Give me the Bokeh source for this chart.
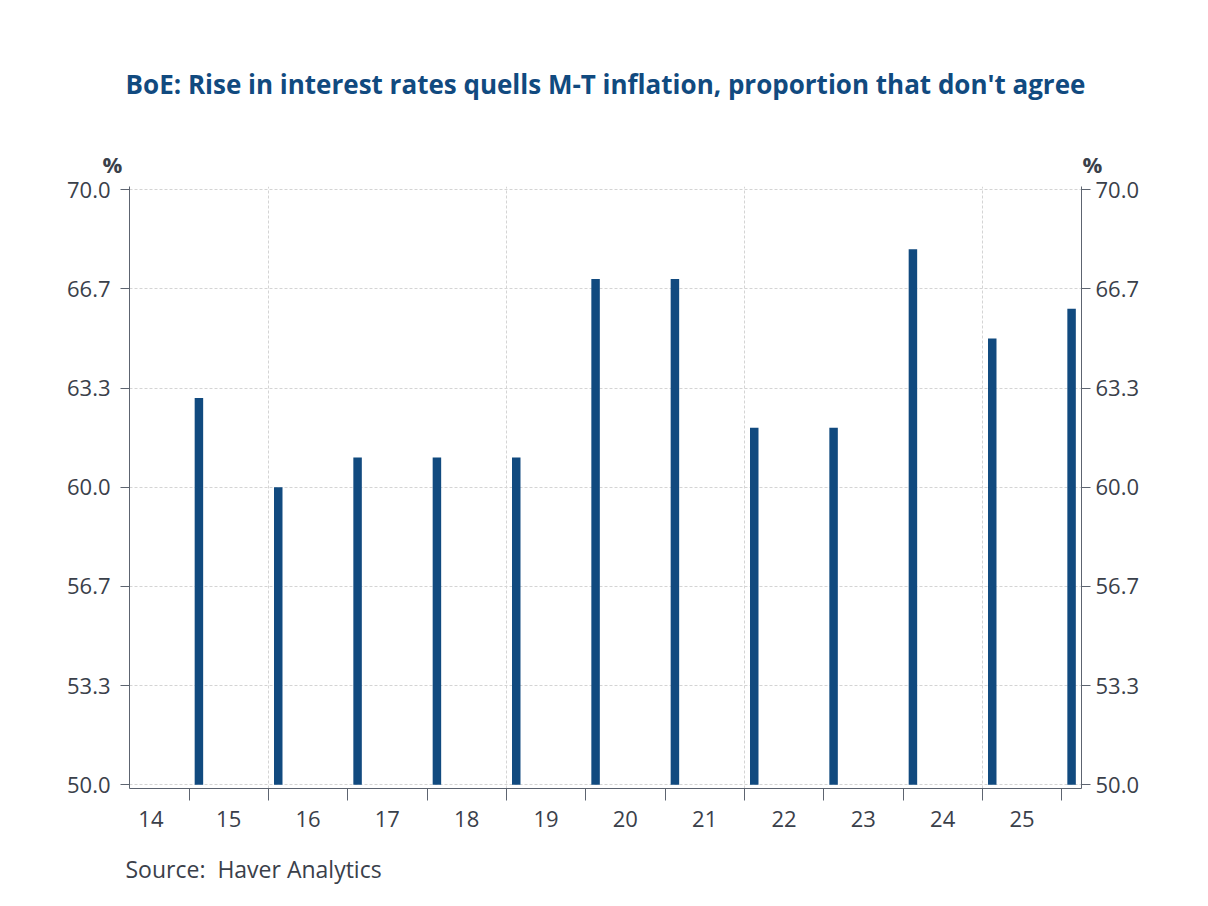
from bokeh.plotting import figure
from bokeh.models import (ColumnDataSource, FixedTicker, LinearAxis, Range1d,
                          Title, PrintfTickFormatter)
from bokeh.embed import file_html
from bokeh.resources import INLINE

# ---- data ----
years = [2015, 2016, 2017, 2018, 2019, 2020, 2021, 2022, 2023, 2024, 2025, 2026]
months = [2] * 12
values = [63.0, 60.0, 61.0, 61.0, 61.0, 67.0, 67.0, 62.0, 62.0, 68.0, 65.0, 66.0]
x_labels = ["14", "15", "16", "17", "18", "19", "20", "21", "22", "23", "24", "25"]
x_label_pos = [2014.52, 2015.5, 2016.5, 2017.5, 2018.5, 2019.5, 2020.5, 2021.5,
               2022.5, 2023.5, 2024.5, 2025.5]
y_ticks = [50.0, 53.333, 56.667, 60.0, 63.333, 66.667, 70.0]

TITLE = "BoE: Rise in interest rates quells M-T inflation, proportion that don't agree"
SOURCE = "Source:  Haver Analytics"
UNIT = "%"

BLUE = "#114a7f"
TXT = "#3a404a"
AX = "#5d6470"
GRID = "#d4d4d4"
FONT = "Open Sans"

xs = [y + (m - 0.5) / 12.0 for y, m in zip(years, months)]
src = ColumnDataSource(dict(x=xs, top=values))

p = figure(width=1192, height=906, output_backend="svg", toolbar_location=None,
           x_range=Range1d(2014.25, 2026.25), y_range=Range1d(49.876, 70.11),
           min_border_left=129, min_border_right=111, min_border_top=186,
           min_border_bottom=118)
p.outline_line_color = None
p.background_fill_color = "white"
p.border_fill_color = "white"

p.vbar(x="x", top="top", bottom=50.0, width=0.107, source=src,
       fill_color=BLUE, line_color=None)

# x axis
xa = p.xaxis[0]
xa.ticker = FixedTicker(ticks=x_label_pos, minor_ticks=list(range(2015, 2027)))
xa.major_label_overrides = {v: l for v, l in zip(x_label_pos, x_labels)}
xa.major_tick_line_color = None
xa.major_tick_out = 0
xa.major_tick_in = 0
xa.minor_tick_out = 12
xa.minor_tick_in = 0
xa.minor_tick_line_color = AX
xa.axis_line_color = AX
xa.major_label_standoff = 10
xa.major_label_text_font = FONT
xa.major_label_text_font_size = "22px"
xa.major_label_text_color = TXT

# y axes
ya = p.yaxis[0]
ra = LinearAxis()
p.add_layout(ra, "right")
for ax, so in ((ya, 10), (ra, 5)):
    ax.ticker = FixedTicker(ticks=y_ticks)
    ax.formatter = PrintfTickFormatter(format="%.1f")
    ax.major_tick_out = 9
    ax.major_tick_in = 0
    ax.minor_tick_line_color = None
    ax.major_tick_line_color = AX
    ax.axis_line_color = AX
    ax.major_label_standoff = so
    ax.major_label_text_font = FONT
    ax.major_label_text_font_size = "22px"
    ax.major_label_text_color = TXT

# grids
p.xgrid.ticker = FixedTicker(ticks=[2016, 2019, 2022, 2025])
p.xgrid.grid_line_color = GRID
p.xgrid.grid_line_dash = "3 2"
p.ygrid.ticker = FixedTicker(ticks=y_ticks)
p.ygrid.grid_line_color = GRID
p.ygrid.grid_line_dash = "3 2"

# unit row (nearest the frame), then the main title above it
unit_text = UNIT + "\u00a0" * 168 + UNIT
p.add_layout(Title(text=unit_text, text_font=FONT, text_font_style="bold",
                   text_font_size="22px", text_color=TXT, align="left",
                   offset=-27, standoff=15), "above")
p.add_layout(Title(text=TITLE, text_font=FONT, text_font_style="bold",
                   text_font_size="26px", text_color=BLUE, align="center",
                   standoff=75), "above")

# source line below the axis
p.add_layout(Title(text=SOURCE.replace("  ", "\u00a0 "), text_font=FONT,
                   text_font_style="normal", text_font_size="23px",
                   text_color=TXT, align="left", offset=-4, standoff=42),
             "below")

open("out.html", "w").write(file_html(p, INLINE))
